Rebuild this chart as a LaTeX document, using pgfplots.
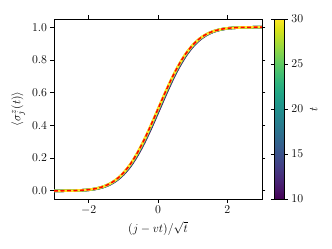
\documentclass[border=0pt]{standalone}
\usepackage{pgfplots}
\pgfplotsset{compat=1.18}
\usepackage{pgfplotstable}
\definecolor{v10}{HTML}{440154}
\definecolor{v15}{HTML}{3B528B}
\definecolor{v20}{HTML}{21918C}
\definecolor{v25}{HTML}{5EC962}
\definecolor{v30}{HTML}{FDE725}
\pgfplotstableread{
x y10 y15 y20 y25 y30 th
-3.0 0.0001 0.0001 0.0001 0.0001 0.0001 0.0001
-2.8 0.0003 0.0003 0.0003 0.0003 0.0003 0.0003
-2.6 0.0006 0.0006 0.0007 0.0007 0.0007 0.0007
-2.4 0.0013 0.0014 0.0015 0.0016 0.0016 0.0016
-2.2 0.0030 0.0032 0.0033 0.0034 0.0035 0.0035
-2.0 0.0058 0.0062 0.0064 0.0066 0.0068 0.0068
-1.8 0.0117 0.0123 0.0128 0.0131 0.0134 0.0134
-1.6 0.0217 0.0227 0.0234 0.0240 0.0245 0.0245
-1.4 0.0380 0.0397 0.0408 0.0417 0.0425 0.0425
-1.2 0.0634 0.0659 0.0675 0.0688 0.0700 0.0700
-1.0 0.1002 0.1036 0.1059 0.1078 0.1094 0.1094
-0.8 0.1503 0.1548 0.1579 0.1603 0.1624 0.1624
-0.6 0.2154 0.2210 0.2247 0.2277 0.2303 0.2303
-0.4 0.2940 0.3005 0.3049 0.3084 0.3114 0.3114
-0.2 0.3839 0.3910 0.3958 0.3996 0.4029 0.4029
0.0 0.4804 0.4877 0.4926 0.4966 0.5000 0.5000
0.2 0.5781 0.5852 0.5900 0.5938 0.5971 0.5971
0.4 0.6712 0.6777 0.6821 0.6856 0.6886 0.6886
0.6 0.7548 0.7604 0.7641 0.7671 0.7697 0.7697
0.8 0.8255 0.8300 0.8331 0.8355 0.8376 0.8376
1.0 0.8814 0.8848 0.8871 0.8890 0.8906 0.8906
1.2 0.9234 0.9259 0.9275 0.9288 0.9300 0.9300
1.4 0.9530 0.9547 0.9558 0.9567 0.9575 0.9575
1.6 0.9727 0.9737 0.9744 0.9750 0.9755 0.9755
1.8 0.9849 0.9855 0.9860 0.9863 0.9866 0.9866
2.0 0.9922 0.9926 0.9928 0.9930 0.9932 0.9932
2.2 0.9960 0.9962 0.9963 0.9964 0.9965 0.9965
2.4 0.9981 0.9982 0.9983 0.9984 0.9984 0.9984
2.6 0.9992 0.9992 0.9993 0.9993 0.9993 0.9993
2.8 0.9997 0.9997 0.9997 0.9997 0.9997 0.9997
3.0 0.9999 0.9999 0.9999 0.9999 0.9999 0.9999
}\datatab
\begin{document}
\begin{tikzpicture}[font=\fontsize{12.5}{15}\selectfont]
\path (-54bp,-50bp) rectangle (278bp,199bp);
\begin{axis}[
  scale only axis,
  width=208bp, height=180bp,
  xmin=-3, xmax=3, ymin=-0.05, ymax=1.05,
  xtick={-2,0,2},
  ytick={0,0.2,0.4,0.6,0.8,1.0},
  yticklabel style={/pgf/number format/.cd,fixed,fixed zerofill,precision=1},
  tick align=outside,
  major tick length=3.5bp,
  axis line style={line width=0.8bp},
  every tick/.style={black, line width=0.8bp},
  xlabel={$(j-vt)/\sqrt{t}$},
  ylabel={$\langle \sigma_j^z(t)\rangle$},
  colorbar,
  colorbar shift/.style={xshift=8.5bp},
  colormap name=viridis,
  point meta min=10, point meta max=30,
  colorbar style={
    scale only axis,
    width=10bp, height=180bp,
    ytick={10,15,20,25,30},
    ylabel={$t$},
    tick align=outside,
    major tick length=3.5bp,
    axis line style={line width=0.8bp},
  },
]
\addplot[v10, line width=2.5bp, smooth] table[x=x, y=y10] {\datatab};
\addplot[v15, line width=2.5bp, smooth] table[x=x, y=y15] {\datatab};
\addplot[v20, line width=2.5bp, smooth] table[x=x, y=y20] {\datatab};
\addplot[v25, line width=2.5bp, smooth] table[x=x, y=y25] {\datatab};
\addplot[v30, line width=2.5bp, smooth] table[x=x, y=y30] {\datatab};
\addplot[red, line width=1.5bp, dash pattern=on 4bp off 2.5bp, smooth] table[x=x, y=th] {\datatab};
\end{axis}
\end{tikzpicture}
\end{document}
